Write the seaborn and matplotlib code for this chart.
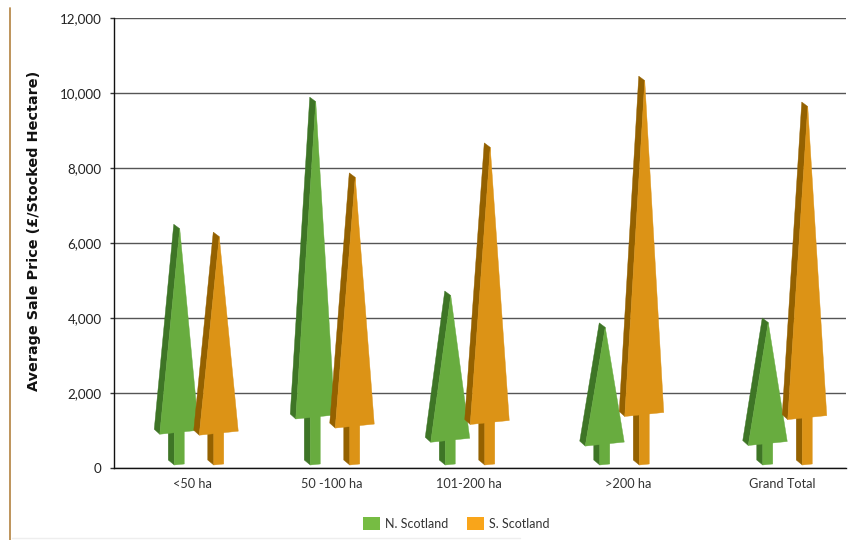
import matplotlib
matplotlib.use("Agg")
import matplotlib.pyplot as plt
from matplotlib.lines import Line2D
from matplotlib.patches import Patch, Polygon
import pandas as pd
import seaborn as sns

# ---- data ----
categories = ["<50 ha", "50 -100 ha", "101-200 ha", ">200 ha", "Grand Total"]
n_scotland = [6500, 9890, 4720, 3870, 4000]
s_scotland = [6290, 7870, 8670, 10450, 9760]
series_names = ["N. Scotland", "S. Scotland"]
y_ticks = [0, 2000, 4000, 6000, 8000, 10000, 12000]

# ---- layout (x axis units equal one pixel; spacing in the source is uneven) ----
tree_centres = [82.5, 218.5, 353.5, 508, 671]
label_centres = [78, 217.5, 354.5, 514, 668]
face_colours = {"N. Scotland": "#68AC3F", "S. Scotland": "#DC9316"}
side_colours = {"N. Scotland": "#3E7526", "S. Scotland": "#946100"}
legend_colours = ["#76BC43", "#F9A51A"]
FONT = "Lato"

sns.set_theme(style="white")
plt.rcParams["font.family"] = [FONT, "DejaVu Sans"]

df = pd.DataFrame({
    "pos": tree_centres * 2,
    "value": n_scotland + s_scotland,
    "region": [series_names[0]] * 5 + [series_names[1]] * 5,
})

fig = plt.figure(figsize=(8.5, 5.4), dpi=100)
ax = fig.add_axes([114 / 850, 1 - 468 / 540, 732 / 850, 450 / 540])

sns.barplot(data=df, x="pos", y="value", hue="region", native_scale=True,
            width=79 / 135, gap=0, legend=False, ax=ax, errorbar=None)
ax.set_xlim(0, 732)
ax.set_ylim(0, 12000)

px = 12000 / 450  # data units per pixel vertically


def draw_tree(xc, value, region, z):
    """Draw a 3-D looking tree whose height comes from the bar's value."""
    face, side = face_colours[region], side_colours[region]
    h = value / px
    base_l = 4.5 + 0.12 * h
    base_r = base_l + 4
    def poly(points, colour, zo):
        pts = [(xc + a, b * px) for a, b in points]
        ax.add_patch(Polygon(pts, closed=True, facecolor=colour, edgecolor=colour,
                             linewidth=0.3, zorder=zo, clip_on=False))
    # trunk
    poly([(-8.5, 8), (-2.5, 3), (-2.5, base_l + 3), (-8.5, base_l + 3)], side, z)
    poly([(-2.5, 3), (7.5, 4), (7.5, base_r), (-2.5, base_r)], face, z)
    # canopy
    poly([(-22.5, base_r + 1), (-3, h), (3, h - 4.5), (-17, base_l)], side, z + 0.1)
    poly([(-17, base_l), (3, h - 4.5), (22, base_r)], face, z + 0.1)


trees = []
for bar, name in zip(ax.patches, [series_names[0]] * 5 + [series_names[1]] * 5):
    trees.append((bar.get_x() + bar.get_width() / 2, bar.get_height(), name))
    bar.set_visible(False)
# order left to right so that each tree overlaps its left neighbour
for i, (xc, val, name) in enumerate(sorted(trees, key=lambda t: t[0])):
    draw_tree(xc, val, name, 5 + i * 0.2)

# axes styling
ax.set_yticks(y_ticks)
ax.set_yticklabels([f"{v:,}" for v in y_ticks], fontsize=9.6, color="#222222")
ax.set_xticks(label_centres)
ax.set_xticklabels(categories, fontsize=9.2, color="#333333")
ax.tick_params(axis="x", length=0, pad=7)
ax.tick_params(axis="y", length=3, width=1, color="#333333", pad=6, left=True)
ax.grid(axis="y", color="#555555", linewidth=1)
ax.set_axisbelow(True)
for s in ("top", "right"):
    ax.spines[s].set_visible(False)
for s in ("left", "bottom"):
    ax.spines[s].set_color("#111111")
    ax.spines[s].set_linewidth(1)
ax.set_xlabel("")
ax.set_ylabel("")
fig.text(34 / 850, 1 - 231 / 540, "Average Sale Price (£/Stocked Hectare)",
         rotation=90, ha="center", va="center", fontsize=10.4, fontweight="bold",
         family="DejaVu Sans", color="#111111")

handles = [Patch(facecolor=c, edgecolor="none") for c in legend_colours]
fig.legend(handles, series_names, loc="center", bbox_to_anchor=(456.5 / 850, 1 - 523.5 / 540),
           ncols=2, frameon=False, fontsize=9, handlelength=1.3, handleheight=1.3,
           handletextpad=0.45, columnspacing=1.5, labelcolor="#333333")

# decorative rule of the source page
fig.add_artist(Line2D([10 / 850, 10 / 850], [1 - 8 / 540, 0], color="#B98B4E", linewidth=1.3))
fig.add_artist(Line2D([12 / 850, 520 / 850], [1 - 538 / 540, 1 - 538 / 540],
                      color="#EEEEEE", linewidth=1))

fig.savefig("out.png", dpi=100)
